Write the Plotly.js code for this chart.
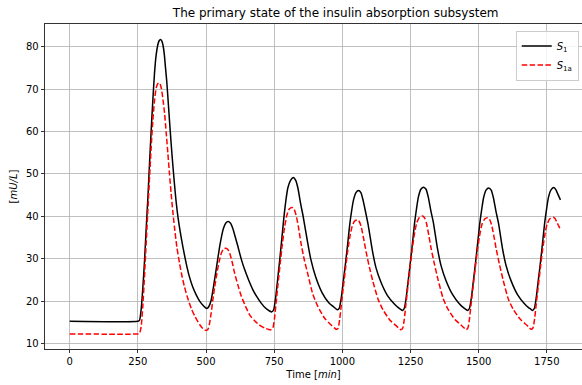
<!DOCTYPE html>
<html>
<head>
<meta charset="utf-8">
<script src="https://cdn.plot.ly/plotly-3.0.1.min.js"></script>
<style>html,body{margin:0;padding:0;background:#fff;}#chart{width:582px;height:385px;}</style>
</head>
<body>
<div id="chart"></div>
<script>
// Time [min] and values for S1 (black, solid)
var tS1 = [0, 250, 256, 262, 268, 274, 280, 287, 293, 299, 305, 311, 317, 323, 328, 333, 338, 342, 347, 351, 356, 360, 366, 372, 378, 384, 390, 397, 406, 415, 427, 439, 451, 464, 476, 488, 496, 503, 510, 519, 527, 535, 543, 550, 557, 564, 572, 581, 590, 598, 607, 617, 629, 642, 657, 672, 688, 703, 718, 733, 741, 748, 755, 763, 771, 779, 786, 793, 800, 810, 820, 829, 837, 847, 856, 871, 884, 902, 926, 951, 966, 975, 982, 989, 996, 1004, 1012, 1020, 1027, 1034, 1041, 1050, 1059, 1068, 1076, 1086, 1095, 1110, 1123, 1141, 1165, 1190, 1205, 1214, 1220, 1227, 1234, 1242, 1250, 1258, 1265, 1272, 1279, 1288, 1298, 1307, 1315, 1325, 1334, 1349, 1362, 1380, 1404, 1429, 1444, 1453, 1459, 1466, 1473, 1481, 1489, 1497, 1504, 1511, 1518, 1527, 1537, 1546, 1554, 1564, 1573, 1588, 1601, 1619, 1643, 1668, 1683, 1692, 1697, 1704, 1711, 1719, 1727, 1735, 1742, 1749, 1756, 1766, 1776, 1783, 1790, 1800];
var vS1 = [15.3, 15.3, 15.5, 18.0, 23.0, 29.0, 36.5, 44.7, 52.8, 60.4, 67.5, 73.7, 78.0, 80.4, 81.4, 81.7, 81.3, 80.4, 78.2, 75.3, 71.8, 68.2, 62.6, 57.2, 52.3, 47.8, 43.7, 39.9, 36.1, 32.9, 29.0, 25.8, 23.4, 21.5, 20.1, 19.1, 18.6, 18.3, 18.7, 20.3, 23.3, 26.6, 30.0, 32.9, 35.3, 37.2, 38.4, 38.8, 38.4, 37.2, 35.2, 32.9, 30.0, 27.4, 24.9, 22.7, 20.9, 19.5, 18.4, 17.7, 17.5, 18.0, 20.7, 25.3, 30.2, 35.4, 40.0, 43.8, 46.7, 48.5, 49.2, 48.5, 46.7, 43.0, 40.1, 34.5, 30.0, 25.8, 22.0, 19.6, 18.8, 18.3, 18.0, 18.4, 20.8, 25.0, 29.2, 33.8, 38.0, 41.3, 43.9, 45.6, 46.1, 45.6, 43.8, 40.8, 37.9, 32.0, 28.0, 24.6, 21.4, 19.4, 18.5, 18.1, 17.85, 18.3, 20.8, 25.1, 29.5, 34.2, 38.5, 41.8, 44.6, 46.4, 46.9, 46.4, 44.6, 41.2, 38.5, 32.4, 28.4, 24.9, 21.6, 19.4, 18.5, 18.1, 17.85, 18.3, 20.7, 25.0, 29.4, 34.1, 38.3, 41.6, 44.4, 46.2, 46.7, 46.2, 44.4, 41.0, 38.3, 32.2, 28.3, 24.8, 21.5, 19.4, 18.5, 18.1, 17.85, 18.3, 20.8, 25.1, 29.4, 34.2, 38.4, 41.7, 44.5, 46.3, 46.8, 46.3, 45.3, 43.9];

// Time [min] and values for S1a (red, dashed)
var tS1a = [0, 250, 256, 262, 268, 274, 281, 287, 293, 299, 305, 311, 317, 322, 327, 332, 336, 342, 348, 354, 360, 366, 372, 378, 384, 393, 403, 412, 421, 433, 446, 458, 470, 479, 488, 495, 501, 507, 513, 519, 525, 532, 540, 548, 556, 564, 573, 580, 587, 596, 605, 617, 630, 645, 660, 678, 696, 715, 730, 738, 745, 751, 757, 764, 772, 780, 788, 797, 806, 816, 823, 830, 839, 848, 860, 873, 892, 910, 935, 959, 970, 977, 984, 990, 996, 1003, 1011, 1019, 1027, 1036, 1045, 1055, 1062, 1069, 1078, 1087, 1099, 1112, 1131, 1149, 1174, 1198, 1208, 1214, 1221, 1227, 1233, 1240, 1248, 1256, 1264, 1273, 1283, 1294, 1301, 1308, 1317, 1326, 1338, 1351, 1370, 1388, 1413, 1437, 1447, 1453, 1460, 1466, 1472, 1479, 1487, 1495, 1503, 1512, 1522, 1533, 1540, 1547, 1556, 1565, 1577, 1590, 1609, 1627, 1652, 1676, 1686, 1692, 1699, 1705, 1711, 1718, 1726, 1734, 1742, 1751, 1762, 1773, 1780, 1787, 1794, 1800];
var vS1a = [12.3, 12.3, 12.4, 14.0, 18.7, 25.5, 34.4, 41.8, 49.4, 56.5, 62.7, 67.3, 70.2, 71.2, 71.5, 71.1, 70.2, 67.6, 64.3, 59.7, 54.9, 50.0, 45.4, 41.3, 37.6, 32.8, 28.9, 25.9, 23.4, 20.7, 18.3, 16.6, 15.2, 14.3, 13.6, 13.25, 13.1, 13.4, 14.8, 17.3, 20.3, 23.5, 26.6, 29.3, 31.3, 32.3, 32.5, 32.2, 31.3, 29.2, 26.6, 23.8, 21.1, 18.8, 16.8, 15.4, 14.4, 13.7, 13.35, 13.3, 13.7, 15.9, 19.6, 24.0, 28.9, 33.5, 37.4, 40.4, 41.8, 42.1, 41.7, 40.4, 37.5, 33.8, 29.9, 26.5, 21.6, 18.8, 16.0, 14.4, 13.8, 13.4, 13.6, 15.7, 19.0, 23.0, 27.4, 31.5, 35.0, 37.7, 38.9, 39.2, 38.8, 37.6, 34.8, 31.7, 28.1, 24.7, 20.5, 18.0, 15.6, 14.2, 13.6, 13.3, 13.6, 15.7, 19.2, 23.2, 27.8, 32.1, 35.7, 38.5, 39.8, 40.1, 39.7, 38.5, 35.6, 32.3, 28.7, 25.1, 20.6, 18.1, 15.7, 14.3, 13.7, 13.3, 13.6, 15.7, 19.2, 23.1, 27.6, 31.8, 35.3, 38.1, 39.4, 39.7, 39.3, 38.1, 35.3, 32.1, 28.5, 24.9, 20.5, 18.1, 15.8, 14.4, 13.8, 13.4, 13.7, 15.8, 19.3, 23.2, 27.7, 31.9, 35.4, 38.2, 39.5, 39.8, 39.5, 38.6, 37.7, 36.8];

var seriesNames = ['<i>S</i><sub>1</sub>', '<i>S</i><sub>1a</sub>'];
var xTickVals = [0, 250, 500, 750, 1000, 1250, 1500, 1750];
var yTickVals = [10, 20, 30, 40, 50, 60, 70, 80];

var font = {family: 'DejaVu Sans, sans-serif', size: 10, color: '#000'};

var traces = [
  {x: tS1, y: vS1, name: seriesNames[0], type: 'scatter', mode: 'lines',
   line: {color: '#000000', width: 1.5, shape: 'spline', smoothing: 0.6}},
  {x: tS1a, y: vS1a, name: seriesNames[1], type: 'scatter', mode: 'lines',
   line: {color: '#ff0000', width: 1.5, dash: '5.5px,2.4px', shape: 'spline', smoothing: 0.6}}
];

var layout = {
  width: 582, height: 385,
  margin: {l: 45, r: 0, t: 24, b: 36, pad: 0},
  paper_bgcolor: '#ffffff', plot_bgcolor: '#ffffff',
  font: font,
  title: {text: 'The primary state of the insulin absorption subsystem',
          font: {family: 'DejaVu Sans, sans-serif', size: 12, color: '#000'},
          x: 0.5413, xref: 'paper', xanchor: 'center', y: 0.966, yanchor: 'middle'},
  xaxis: {range: [-90.6, 1879], tickvals: xTickVals, ticktext: xTickVals.map(String),
          showgrid: true, gridcolor: '#b0b0b0', gridwidth: 0.8,
          showline: true, linecolor: '#000', linewidth: 0.8, mirror: true,
          ticks: 'outside', ticklen: 3.5, tickwidth: 0.8, tickcolor: '#000',
          zeroline: false, tickfont: font,
          title: {text: 'Time [<i>min</i>]', font: font, standoff: 4}},
  yaxis: {range: [8.75, 85.35], tickvals: yTickVals, ticktext: yTickVals.map(String),
          showgrid: true, gridcolor: '#b0b0b0', gridwidth: 0.8,
          showline: true, linecolor: '#000', linewidth: 0.8, mirror: false,
          ticks: 'outside', ticklen: 3.5, tickwidth: 0.8, tickcolor: '#000',
          zeroline: false, tickfont: font,
          title: {text: '[<i>mU/L</i>]', font: font, standoff: 6}},
  showlegend: true,
  legend: {x: 0.9939, y: 0.98, xanchor: 'right', yanchor: 'top',
           bgcolor: 'rgba(255,255,255,0.8)', bordercolor: '#cccccc', borderwidth: 1,
           font: {family: 'DejaVu Sans, sans-serif', size: 10, color: '#000'},
           itemwidth: 30, tracegroupgap: 0}
};

Plotly.newPlot('chart', traces, layout, {displayModeBar: false, staticPlot: true});
</script>
</body>
</html>
